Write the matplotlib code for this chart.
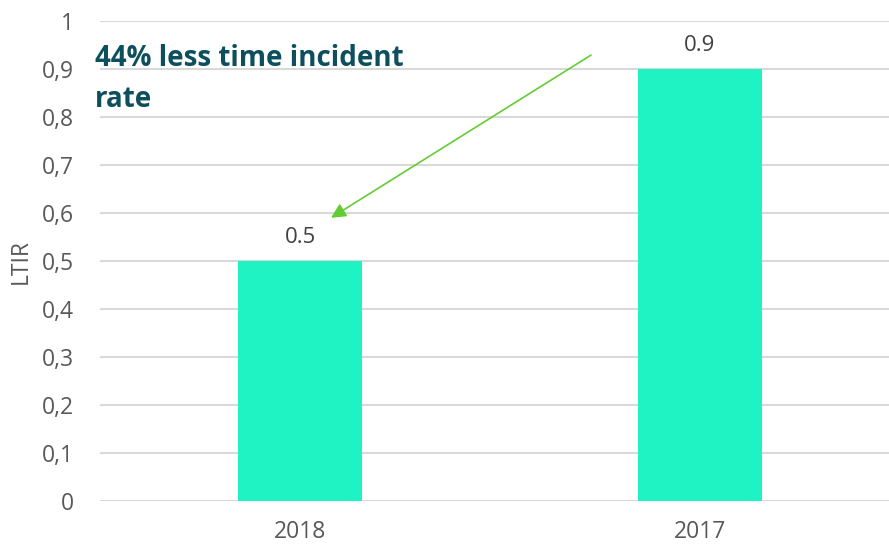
import matplotlib.pyplot as plt
import numpy as np

plt.rcParams['font.family'] = ['Open Sans', 'DejaVu Sans']

# data
years = ['2018', '2017']
ltir = [0.5, 0.9]
bar_labels = ['0.5', '0.9']
y_ticks = [0, 0.1, 0.2, 0.3, 0.4, 0.5, 0.6, 0.7, 0.8, 0.9, 1]
y_tick_labels = ['0', '0,1', '0,2', '0,3', '0,4', '0,5', '0,6', '0,7', '0,8', '0,9', '1']

fig = plt.figure(figsize=(8.89, 5.52), dpi=100)
ax = fig.add_axes([100 / 889, 51 / 552, 789 / 889, 480 / 552])

xs = np.arange(len(years))
bars = ax.bar(xs, ltir, width=0.31, color='#1FF2C3', zorder=3)
for b, lab in zip(bars, bar_labels):
    ax.annotate(lab, (b.get_x() + b.get_width() / 2, b.get_height()),
                xytext=(0, 17), textcoords='offset points',
                ha='center', va='center', fontsize=16, color='#404040')

ax.set_xlim(-0.5, 1.4725)
ax.set_ylim(0, 1)
ax.set_xticks(xs)
ax.set_xticklabels(years, fontsize=16.5, color='#595959')
ax.set_yticks(y_ticks)
ax.set_yticklabels(y_tick_labels, fontsize=16.5, color='#595959')
ax.tick_params(axis='both', length=0)
ax.tick_params(axis='y', pad=19)
ax.tick_params(axis='x', pad=14)
ax.grid(axis='y', color='#D9D9D9', linewidth=1.5, zorder=0)
for s in ax.spines.values():
    s.set_visible(False)
ax.set_ylabel('LTIR', fontsize=16.5, color='#595959', labelpad=6)

ax.annotate('', xy=(0.0775, 0.59), xytext=(0.7275, 0.929),
            arrowprops=dict(arrowstyle='-|>', color='#66CC33', lw=1.2,
                            mutation_scale=22, shrinkA=0, shrinkB=0))
fig.text(95 / 889, 1 - 79 / 552, '44% less time incident\nrate',
         fontsize=20, fontweight='bold', color='#0D4F5C',
         ha='left', va='center', linespacing=1.55)

fig.savefig('out.png', dpi=100)
